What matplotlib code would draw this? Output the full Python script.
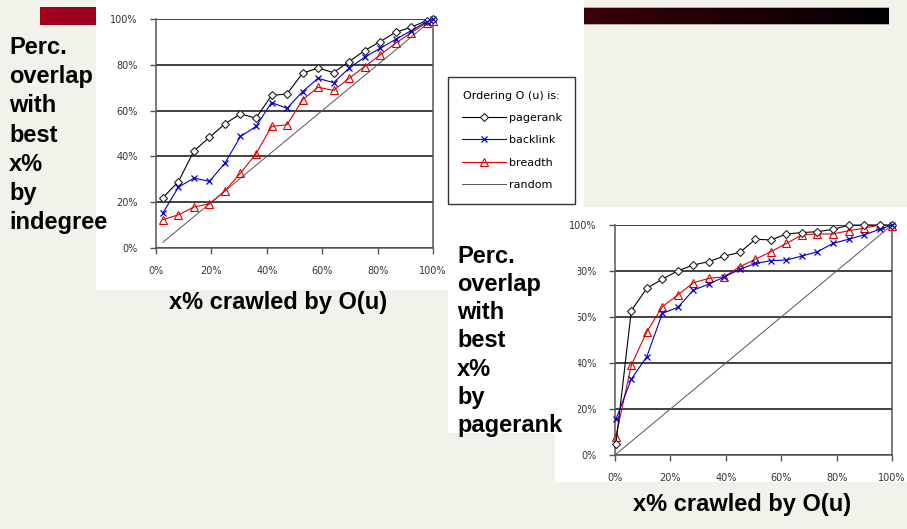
import numpy as np
import matplotlib.pyplot as plt
from matplotlib.patches import Rectangle
from matplotlib.ticker import FuncFormatter
from matplotlib.colors import LinearSegmentedColormap

W, H = 907, 529

# chart 1 : overlap with best x% by indegree
x1 = [2.5, 8.1, 13.7, 19.3, 24.9, 30.5, 36.1, 41.7, 47.3, 52.9, 58.5, 64.1, 69.7, 75.3, 80.9, 86.5, 92.1, 97.7, 100]
pagerank1 = [22, 29, 42.4, 48.3, 54.2, 58.6, 56.7, 66.6, 67.3, 76.3, 78.6, 76.6, 81.4, 86.2, 90.1, 94.2, 96.4, 99.3, 100]
backlink1 = [15.3, 26.6, 30.5, 29.1, 37.1, 48.7, 53.1, 63.5, 61, 68.3, 74.1, 72.2, 78.5, 83.3, 87.2, 91.1, 94.9, 98.8, 100]
breadth1 = [12.4, 14.5, 17.9, 19.3, 25, 32.7, 41.1, 53.1, 53.8, 64.7, 70.2, 68.8, 74.1, 79.2, 84.3, 89.4, 94, 98.4, 99]
random1_x = [2.5, 100]
random1 = [2.5, 100]

# chart 2 : overlap with best x% by pagerank
x2 = [0.3, 5.9, 11.5, 17.1, 22.7, 28.3, 33.9, 39.5, 45.1, 50.7, 56.3, 61.9, 67.5, 73.1, 78.7, 84.3, 89.9, 95.5, 100]
pagerank2 = [4.6, 62.8, 72.5, 76.5, 80.1, 82.6, 84.1, 86.5, 88.1, 93.8, 93.5, 96.1, 96.7, 97.1, 98.1, 99.9, 100, 100, 100]
backlink2 = [15.5, 33, 42.8, 61.6, 64.2, 71.7, 74.3, 77.5, 80.7, 83.3, 84.5, 84.8, 86.5, 88.4, 92, 93.8, 95.7, 98.1, 100]
breadth2 = [8, 39.1, 53.6, 64.5, 69.6, 74.9, 76.8, 77.5, 81.9, 85.1, 88.4, 92, 95.7, 96.1, 96.1, 97.5, 98.6, 100, 99.6]
random2_x = [0, 100]
random2 = [0, 100]

ticks = [0, 20, 40, 60, 80, 100]
series_names = ["pagerank", "backlink", "breadth", "random"]


def box(l, t, r, b):
    return [l / W, 1 - b / H, (r - l) / W, (b - t) / H]


def rect(l, t, r, b, color, z):
    fig.add_artist(Rectangle((l / W, 1 - b / H), (r - l) / W, (b - t) / H,
                             transform=fig.transFigure, facecolor=color,
                             edgecolor="none", zorder=z))


def draw(ax, x, pr, bl, br, rx, ry):
    ax.plot(x, pr, color="black", lw=0.8, marker="D", ms=4.5, mfc="white",
            mec="#222222", mew=0.8, label=series_names[0], clip_on=False, zorder=4)
    ax.plot(x, bl, color="#0000cc", lw=0.8, marker="x", ms=5, mew=0.9,
            label=series_names[1], clip_on=False, zorder=5)
    ax.plot(x, br, color="#e00000", lw=0.8, marker="^", ms=6, mfc="none",
            mec="#e00000", mew=0.8, label=series_names[2], clip_on=False, zorder=3)
    ax.plot(rx, ry, color="#555555", lw=0.7, label=series_names[3], zorder=2)
    ax.set_xlim(0, 100)
    ax.set_ylim(0, 100)
    ax.set_xticks(ticks)
    ax.set_yticks(ticks)
    fmt = FuncFormatter(lambda v, _: f"{v:.0f}%")
    ax.xaxis.set_major_formatter(fmt)
    ax.yaxis.set_major_formatter(fmt)
    ax.set_axisbelow(True)
    ax.grid(axis="y", color="#333333", lw=1.3)
    ax.spines["top"].set_visible(False)
    for s in ["left", "bottom", "right"]:
        ax.spines[s].set_color("#555555")
        ax.spines[s].set_linewidth(1.1)
    ax.tick_params(length=4, width=1, color="#555555", labelsize=7,
                   labelcolor="#333333", pad=9)
    ax.set_facecolor("white")


fig = plt.figure(figsize=(W / 100, H / 100), dpi=100)
fig.patch.set_facecolor("#f2f1ea")

# title bar (behind the pasted pictures)
bar = fig.add_axes(box(40, 7, 889, 25))
bar.set_zorder(-5)
cmap = LinearSegmentedColormap.from_list("bar", ["#a2001f", "#000000"])
bar.imshow(np.linspace(0, 1, 256).reshape(1, -1), cmap=cmap, aspect="auto")
bar.set_xticks([])
bar.set_yticks([])
for s in bar.spines.values():
    s.set_visible(False)
rect(584, 7, 889, 8, "#b0aca0", -4)
rect(584, 24, 889, 25, "#b0aca0", -4)

# white picture areas of the slide
rect(96, 0, 584, 290, "white", -2)
rect(448, 207, 907, 433, "white", -2)
rect(555, 433, 907, 482, "white", -2)

ax1 = fig.add_axes(box(156, 19, 433, 248))
draw(ax1, x1, pagerank1, backlink1, breadth1, random1_x, random1)

ax2 = fig.add_axes(box(615, 225, 892, 455))
draw(ax2, x2, pagerank2, backlink2, breadth2, random2_x, random2)

# label box pasted over the left of the second chart
rect(448, 236, 578, 433, "white", 1)

leg = ax1.legend(title="Ordering O (u) is:", loc="upper left",
                 bbox_to_anchor=(448 / W, 1 - 77 / H), bbox_transform=fig.transFigure,
                 borderaxespad=0, fontsize=8, title_fontsize=8, frameon=True,
                 fancybox=False, edgecolor="black", handlelength=4.0,
                 labelspacing=1.1, borderpad=1.25, handletextpad=0.2)
leg.get_frame().set_linewidth(1.0)

bold = dict(fontsize=17, fontweight="bold", family=["Liberation Sans", "DejaVu Sans"],
            color="black", zorder=5)
fig.text(9 / W, 1 - 36 / H, "Perc.\noverlap\nwith\nbest\nx%\nby\nindegree",
         va="top", ha="left", linespacing=1.345, **bold)
fig.text(457 / W, 1 - 245 / H, "Perc.\noverlap\nwith\nbest\nx%\nby\npagerank",
         va="top", ha="left", linespacing=1.285, **bold)
fig.text(278 / W, 1 - 302 / H, "x% crawled by O(u)", va="center", ha="center", **bold)
fig.text(742 / W, 1 - 505 / H, "x% crawled by O(u)", va="center", ha="center", **bold)

fig.savefig("out.png", dpi=100, facecolor=fig.get_facecolor())
